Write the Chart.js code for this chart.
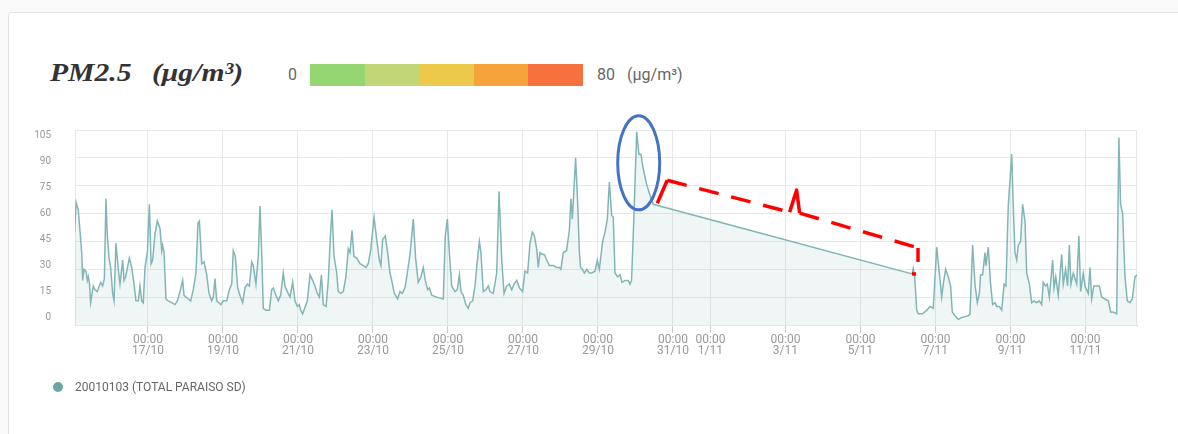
<!DOCTYPE html>
<html>
<head>
<meta charset="utf-8">
<script src="https://cdn.jsdelivr.net/npm/chart.js@4.4.1/dist/chart.umd.min.js"></script>
<style>
  html, body { margin: 0; padding: 0; }
  body { width: 1178px; height: 434px; overflow: hidden; background: #f9f9f9; position: relative; font-family: Roboto, "Noto Sans", sans-serif; }
  .card { position: absolute; left: 8px; top: 12px; width: 1220px; height: 480px; background: #fff; border: 1px solid #e2e2e2; border-radius: 4px; }
  .title { position: absolute; top: 58px; font-family: "Liberation Serif", serif; font-weight: bold; font-style: italic; font-size: 26px; color: #333; transform-origin: left center; transform: scaleX(1.14); white-space: pre; }
  .scale-txt { position: absolute; top: 65px; font-size: 16px; color: #666; line-height: 20px; white-space: pre; }
  .bar { position: absolute; left: 310px; top: 64px; width: 273px; height: 22px; display: flex; }
  .bar div { flex: 1; }
  #wrap { position: absolute; left: 0; top: 0; width: 1178px; height: 434px; }
  .legend-dot { position: absolute; left: 53px; top: 382px; width: 10px; height: 10px; border-radius: 50%; background: #6aa6a6; }
  .legend-txt { position: absolute; left: 75px; top: 379px; font-size: 12px; color: #666; line-height: 16px; }
</style>
</head>
<body>
<div class="card"></div>
<div class="title" style="left:50px">PM2.5</div>
<div class="title" style="left:152px">(μg/m³)</div>
<div class="scale-txt" style="left:288px">0</div>
<div class="bar" id="bar"></div>
<div class="scale-txt" style="left:597px">80</div>
<div class="scale-txt" style="left:627px">(µg/m³)</div>
<div id="wrap"><canvas id="chart" width="1178" height="434"></canvas></div>
<div class="legend-dot"></div>
<div class="legend-txt">20010103 (TOTAL PARAISO SD)</div>

<script>
// hours since 15/10 00:00
const hours = [
  1,2,3.4,5.6,6.2,7.1,8.3,9.2,9.8,10.5,11.3,13,14.1,15.6,17.7,19,20.1,21.1,22,23.1,
  24.1,25.4,26.3,27.5,29,30.1,31.8,32.7,33.7,36.1,37.6,39.1,40.3,41.8,42.9,44,45,46.1,47.6,48.9,
  50,51,52.5,54,55.7,56.8,57.4,58.3,59.5,61,63.2,65.3,66.8,68.5,70.2,71.1,73.8,75.3,77,78.7,
  80,80.9,82.4,83.9,85.6,87.1,88.8,89.8,90.9,92,94.7,96.2,98.4,100.1,101.6,102.6,103.9,105.4,106.9,108.6,
  110.1,111.6,112.9,114.4,115.4,117.1,118.6,119.7,120.8,121.8,123.5,125.7,127.2,128.2,129.9,131.4,132.9,134.6,135.7,137.2,
  138.9,140.6,142.1,143.6,144.9,145.7,147,150,151.7,153.4,154.9,156.4,157.7,159,160.2,162,163.4,164.9,165.8,167.1,
  168.8,169.8,171.3,173,174.7,176.2,177.3,178.6,179.8,181.6,183.7,185.8,187.5,189,190.5,192.7,194.4,196.1,197.1,198.2,
  199.9,201.4,202.9,204,205.7,207.8,209.3,210.8,212.5,214,215.7,217.8,219.3,221,222.7,224.2,225.5,227,228.1,229.6,
  232.8,237,238.3,239.6,240.9,242.4,244.5,246,247.3,248.3,249.8,251.5,253,254.1,255.8,257.3,258.4,260.1,261.1,262.6,
  264.3,265.8,266.9,269,271.2,272.7,274.4,275.9,277.6,279.3,280.8,282.3,284,285.7,287.8,289.3,291,292.5,294,295.3,
  296.8,297.8,298.9,300.4,301.7,303.2,304.9,307.4,309.6,311.3,312.3,313.8,315.9,317.7,318.7,319.6,321.7,323,324.1,324.9,
  326,327.3,328.8,330.5,332,334.1,335.6,336.9,339,340.5,342,343.3,344.8,345.8,346.9,348.6,350.1,351.4,353.3,355.4,
  356.5,357.5,359,360.8,362.2,363.5,365,367.1,369.3,371.4,
  537,537.8,538.7,540,541,543.8,546.4,548.5,550.6,552.8,554.5,556,557,558.5,560.2,561.7,562.8,564.5,566.6,568.8,
  570.9,573,574.1,575.8,577.3,578.8,580.1,580.9,582.2,583.7,584.3,585.8,587.3,588.6,590.1,591.2,592.9,594.4,595.9,597.1,
  598.6,600.8,601.8,602.9,604,605,606.5,607.8,609.3,610.4,612.1,613.6,615.1,616.8,618.5,620,621,622.5,623.6,624.9,
  627,627.9,629,630.6,632.8,633.8,635.3,636.6,637.7,638.7,640.2,642.4,643.8,644.9,646.6,647.7,649.8,650.9,652,653.4,
  655.2,656.9,658.4,660.5,662.6,664.1,665.8,668,669.4,670.5,671.8,673.3,674.8,676.5,678,679.7,681.2
];
const pm25 = [
  50,66,62,39,24,30,29,24,26,23,12,21,19,18,23,21,25,68,48,36,
  31,17,13,44,30,22,35,24,26,36,31,22,13,13,21,13,12,31,39,65,
  33,35,49,56,52,40,43,39,14,13,12,11,13,18,24,16,14,13,19,28,
  55,56,33,34,27,17,13,15,25,13,11,13,13,19,22,40,37,20,16,12,
  20,22,21,34,32,22,37,64,39,9,8,8,19,20,16,13,16,28,21,18,
  15,23,13,10,11,8,6,13,27,24,21,17,15,27,11,10,24,50,62,37,
  28,18,17,18,26,41,39,51,37,36,33,32,31,33,40,58,46,35,32,46,
  48,39,28,24,17,14,18,17,20,28,38,57,36,23,26,31,24,19,20,16,
  15,14,48,57,39,21,18,19,27,18,16,11,9,12,13,21,31,45,39,18,
  19,21,18,17,28,72,35,17,21,22,19,22,24,20,18,29,28,44,50,48,
  41,31,39,38,38,35,32,32,31,31,30,39,40,51,68,57,90,66,39,31,
  30,28,30,28,28,29,35,30,45,50,57,77,59,58,28,26,27,23,24,24,
  22,24,58,104,92,92,84,76,70,65,
  27.5,30.5,26,8,6,6,8,10,9,42,28,15,22,30,26,21,7,5,3,4,
  4.5,5,6,43,22,12,17,27,27,39,32,42,22,11,12,10,10,8,22,21,
  64,92,64,39,35,43,45,65,56,28,22,12,13,12,13,11,23,21,22,15,
  35,20,26,16,38,22,30,21,43,22,28,22,48,18,28,21,17,31,14,21,
  21,21,15,14,13,7,7,6,101,65,60,26,13,12,14,26,27
];
const xMin = 1.3, xMax = 681;
const tickHours = [48, 96, 144, 192, 240, 288, 336, 384, 408, 456, 504, 552, 600, 648];
const tickLabels = ['17/10', '19/10', '21/10', '23/10', '25/10', '27/10', '29/10', '31/10', '1/11', '3/11', '5/11', '7/11', '9/11', '11/11'];
const yTicks = [0, 15, 30, 45, 60, 75, 90, 105];
const scaleColors = ['#95d673', '#c3d677', '#ecc94b', '#f6a33b', '#f6713e'];
const seriesName = '20010103 (TOTAL PARAISO SD)';

const bar = document.getElementById('bar');
scaleColors.forEach(c => { const d = document.createElement('div'); d.style.background = c; bar.appendChild(d); });

const refMarks = {
  id: 'refMarks',
  beforeDatasetsDraw(chart) {
    const { ctx, chartArea: a } = chart;
    ctx.save();
    ctx.strokeStyle = '#e8e8e8';
    ctx.lineWidth = 1;
    ctx.strokeRect(a.left + 0.5, a.top + 0.5, a.right - a.left - 1, a.bottom - a.top);
    ctx.restore();
  },
  afterDatasetsDraw(chart) {
    const { ctx, scales: { x, y } } = chart;
    ctx.save();
    // circle round the highest reading
    const iMax = pm25.indexOf(Math.max(...pm25));
    const mx = x.getPixelForValue(hours[iMax]), my = y.getPixelForValue(pm25[iMax]);
    ctx.strokeStyle = '#4472c4';
    ctx.lineWidth = 3;
    ctx.beginPath();
    ctx.ellipse(mx + 2, my + 31, 21, 47, 0, 0, Math.PI * 2);
    ctx.stroke();
    // bracket over the missing stretch
    let g = 0;
    for (let i = 1; i < hours.length; i++) if (hours[i] - hours[i - 1] > hours[g + 1] - hours[g]) g = i - 1;
    const p = { x: x.getPixelForValue(hours[g]), y: y.getPixelForValue(pm25[g]) };
    const q = { x: x.getPixelForValue(hours[g + 1]), y: y.getPixelForValue(pm25[g + 1]) };
    const A = [p.x + 4, p.y - 1], B = [p.x + 14, p.y - 24];
    const F = [q.x + 6, q.y - 26], G = [q.x + 6, q.y - 12];
    const M = [(B[0] + F[0]) / 2, (B[1] + F[1]) / 2];
    const C = [M[0] - 3, M[1] - 2], D = [M[0] + 4, M[1] - 24], E = [M[0] + 7, M[1] - 1];
    ctx.strokeStyle = '#ff0000';
    ctx.lineWidth = 3.5;
    ctx.lineJoin = 'round';
    const path = (pts, dash) => {
      ctx.setLineDash(dash);
      ctx.beginPath();
      ctx.moveTo(pts[0][0], pts[0][1]);
      pts.slice(1).forEach(pt => ctx.lineTo(pt[0], pt[1]));
      ctx.stroke();
    };
    path([A, B], []);
    path([B, C], [20, 13]);
    path([C, D, E], []);
    path([E, F], [20, 13]);
    path([F, G], []);
    path([[q.x, q.y], [q.x + 4, q.y]], []);
    ctx.restore();
  }
};

new Chart(document.getElementById('chart'), {
  type: 'line',
  data: {
    datasets: [{
      label: seriesName,
      data: hours.map((h, i) => ({ x: h, y: pm25[i] })),
      borderColor: '#82b6b5',
      backgroundColor: 'rgba(130,182,181,0.13)',
      borderWidth: 1.5,
      pointRadius: 0,
      tension: 0,
      fill: 'origin'
    }]
  },
  options: {
    responsive: false,
    animation: false,
    devicePixelRatio: 1,
    layout: { padding: { top: 130, right: 41, bottom: 0, left: 0 } },
    plugins: {
      legend: { display: false },
      tooltip: { enabled: false }
    },
    scales: {
      x: {
        type: 'linear',
        min: xMin,
        max: xMax,
        afterBuildTicks: s => { s.ticks = tickHours.map(v => ({ value: v })); },
        afterFit: s => { s.height = 109; },
        grid: { color: '#e8e8e8', tickColor: '#cccccc', tickLength: 8 },
        border: { color: '#cccccc' },
        ticks: {
          maxRotation: 0,
          autoSkip: false,
          padding: 1,
          color: '#999',
          font: { family: 'Roboto', size: 12, lineHeight: 0.93 },
          callback: (v, i) => ['00:00', tickLabels[i]]
        }
      },
      y: {
        min: 0,
        max: 105,
        afterBuildTicks: s => { s.ticks = yTicks.map(v => ({ value: v })); },
        afterFit: s => { s.width = 0; },
        grid: { color: '#e8e8e8', drawTicks: false },
        border: { display: false },
        ticks: { display: false }
      },
      yLab: {
        position: 'left',
        min: -4.02,
        max: 107.87,
        afterBuildTicks: s => { s.ticks = yTicks.map(v => ({ value: v })); },
        afterFit: s => { s.width = 75; },
        grid: { display: false, drawTicks: false },
        border: { display: false },
        ticks: { padding: 24, color: '#999', font: { family: 'Roboto', size: 10 } }
      }
    }
  },
  plugins: [refMarks]
});
</script>
</body>
</html>
